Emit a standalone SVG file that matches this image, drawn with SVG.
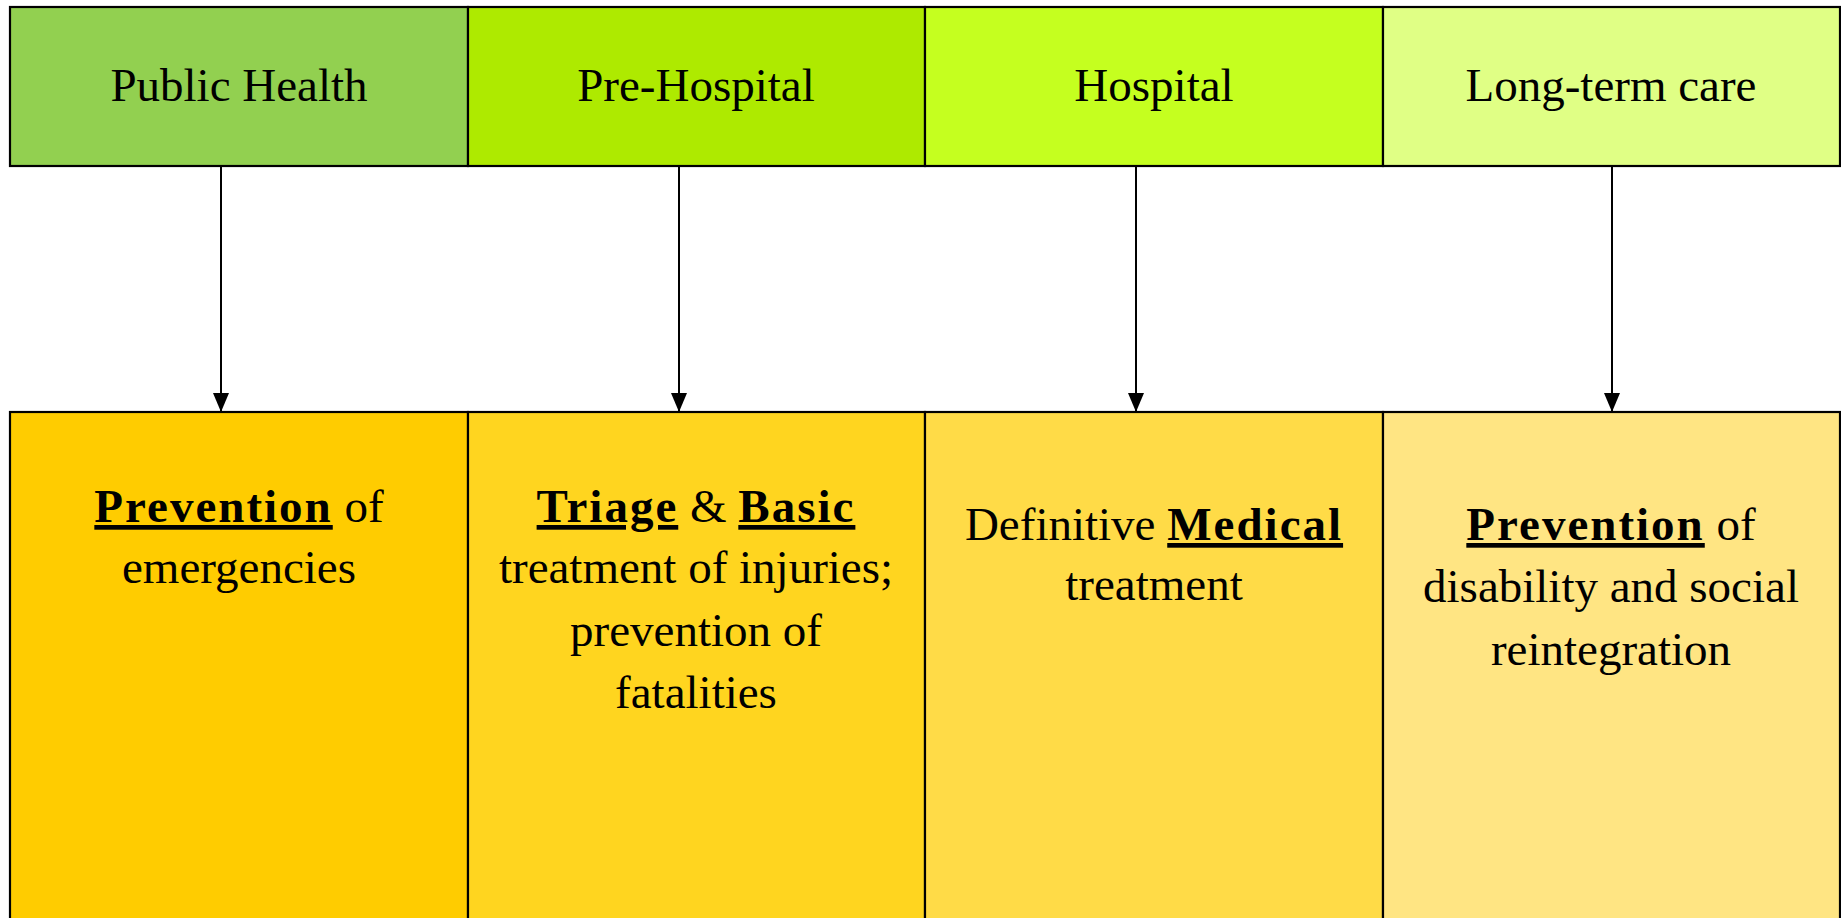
<svg xmlns="http://www.w3.org/2000/svg" width="1841" height="918" viewBox="0 0 1841 918">
<style>
.box{stroke:#000;stroke-width:2.2}
.t{font-family:"Liberation Serif","Times New Roman",serif;font-size:47px;fill:#000;text-anchor:middle}
.b{font-weight:bold;text-decoration:underline;letter-spacing:2px}
.c{stroke:#000;stroke-width:2;fill:none}
</style>
<defs>
<marker id="ah" viewBox="0 0 19 16" refX="19" refY="8" markerWidth="19" markerHeight="16" markerUnits="userSpaceOnUse" orient="auto">
<path d="M0,0 L19,8 L0,16 Z" fill="#000"/>
</marker>
</defs>
<rect width="1841" height="918" fill="#fff"/>
<g id="connectors">
<line class="c" x1="221" y1="166" x2="221" y2="412" marker-end="url(#ah)"/>
<line class="c" x1="679" y1="166" x2="679" y2="412" marker-end="url(#ah)"/>
<line class="c" x1="1136" y1="166" x2="1136" y2="412" marker-end="url(#ah)"/>
<line class="c" x1="1612" y1="166" x2="1612" y2="412" marker-end="url(#ah)"/>
</g>
<g id="public-health">
<rect class="box" x="10" y="7" width="458" height="159" fill="#92D050"/>
<text class="t" x="239" y="101">Public Health</text>
</g>
<g id="pre-hospital">
<rect class="box" x="468" y="7" width="457" height="159" fill="#AEEA00"/>
<text class="t" x="696" y="101">Pre-Hospital</text>
</g>
<g id="hospital">
<rect class="box" x="925" y="7" width="458" height="159" fill="#C5FF1F"/>
<text class="t" x="1154" y="101">Hospital</text>
</g>
<g id="long-term-care">
<rect class="box" x="1383" y="7" width="457" height="159" fill="#E0FF85"/>
<text class="t" x="1611" y="101">Long-term care</text>
</g>
<g id="prevention-emergencies">
<rect class="box" x="10" y="412" width="458" height="520" fill="#FFCC00"/>
<text class="t" x="239" y="522"><tspan class="b">Prevention</tspan> of</text>
<text class="t" x="239" y="583">emergencies</text>
</g>
<g id="triage-basic">
<rect class="box" x="468" y="412" width="457" height="520" fill="#FFD51F"/>
<text class="t" x="696" y="522"><tspan class="b">Triage</tspan> &amp; <tspan class="b">Basic</tspan></text>
<text class="t" x="696" y="583">treatment of injuries;</text>
<text class="t" x="696" y="646">prevention of</text>
<text class="t" x="696" y="708">fatalities</text>
</g>
<g id="definitive-medical">
<rect class="box" x="925" y="412" width="458" height="520" fill="#FFDB47"/>
<text class="t" x="1154" y="540">Definitive <tspan class="b">Medical</tspan></text>
<text class="t" x="1154" y="600">treatment</text>
</g>
<g id="prevention-disability">
<rect class="box" x="1383" y="412" width="457" height="520" fill="#FFE583"/>
<text class="t" x="1611" y="540"><tspan class="b">Prevention</tspan> of</text>
<text class="t" x="1611" y="602">disability and social</text>
<text class="t" x="1611" y="665">reintegration</text>
</g>
</svg>
